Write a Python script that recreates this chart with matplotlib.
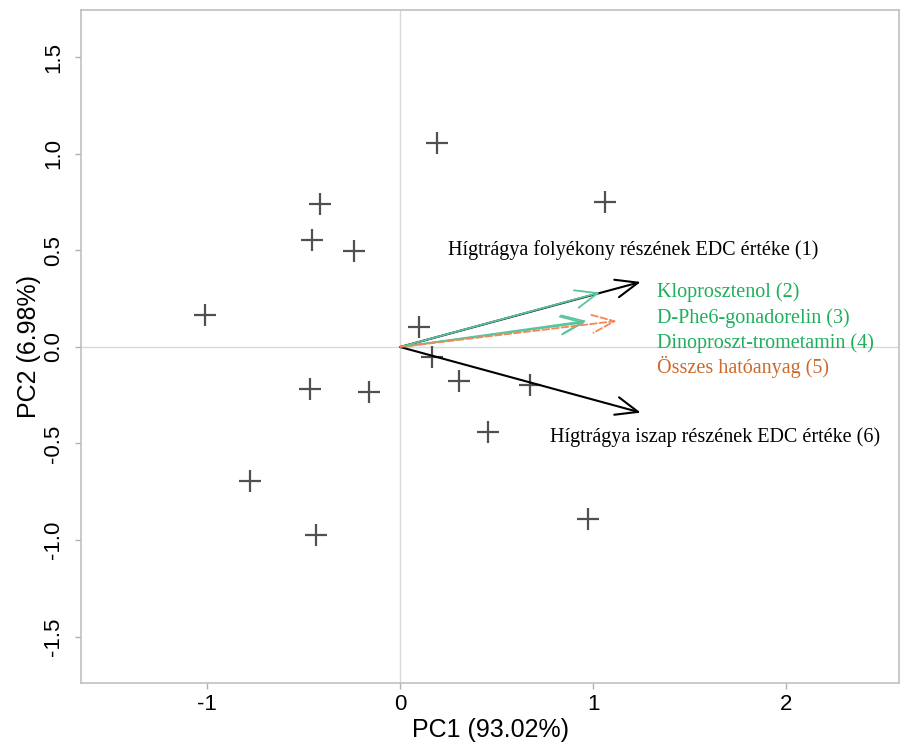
import matplotlib
matplotlib.use("Agg")
import matplotlib.pyplot as plt
from matplotlib.patches import FancyArrowPatch

# sample scores (PC1, PC2)
pc1 = [0.190, 1.062, -0.415, -0.458, -0.238, -1.010, 0.100, 0.164,
       0.307, 0.674, -0.466, -0.161, 0.458, -0.777, 0.976, -0.435]
pc2 = [1.059, 0.751, 0.739, 0.553, 0.497, 0.168, 0.104, -0.052,
       -0.176, -0.198, -0.219, -0.235, -0.440, -0.696, -0.889, -0.976]

# variable loadings (arrow tips)
var_names = ["Hígtrágya folyékony részének EDC értéke (1)",
             "Kloprosztenol (2)",
             "D-Phe6-gonadorelin (3)",
             "Dinoproszt-trometamin (4)",
             "Összes hatóanyag (5)",
             "Hígtrágya iszap részének EDC értéke (6)"]
load_x = [1.247, 1.036, 0.967, 0.960, 1.123, 1.247]
load_y = [0.337, 0.282, 0.135, 0.128, 0.135, -0.340]

xticks = [-1, 0, 1, 2]
yticks = [-1.5, -1.0, -0.5, 0.0, 0.5, 1.0, 1.5]
xlabel = "PC1 (93.02%)"
ylabel = "PC2 (6.98%)"

arrow_colors = ["#000000", "#5cc49c", "#5cc49c", "#5cc49c", "#f4875a", "#000000"]
arrow_styles = ["-", "-", "-", "-", "--", "-"]
text_colors = ["#000000", "#1fae5c", "#1fae5c", "#1fae5c", "#cc6a2c", "#000000"]

fig = plt.figure(figsize=(9.0, 7.45), dpi=100)
ax = fig.add_axes([0.09, 0.0832, 0.9089, 0.9034])
ax.set_xlim(-1.653, 2.585)
ax.set_ylim(-1.741, 1.746)

ax.axhline(0, color="#d9d9d9", lw=1.0, zorder=0)
ax.axvline(0, color="#d9d9d9", lw=1.0, zorder=0)

ax.scatter(pc1, pc2, marker="+", s=230, color="#505050", linewidths=1.6, zorder=3)

for i in range(len(var_names)):
    arr = FancyArrowPatch((0, 0), (load_x[i], load_y[i]),
                          arrowstyle="->,head_length=1.6,head_width=0.65",
                          mutation_scale=10, color=arrow_colors[i],
                          lw=1.5 if arrow_colors[i] == "#000000" else 1.3,
                          linestyle=arrow_styles[i], shrinkA=0, shrinkB=0,
                          zorder=4 if i != 4 else 5)
    ax.add_patch(arr)

serif = ["Liberation Serif", "DejaVu Serif"]
# label placements
ax.text(1.207, 0.50, var_names[0], color=text_colors[0], fontsize=14.5,
        family=serif, ha="center", va="center")
green_y = [0.285, 0.152, 0.020, -0.105]
for k, i in enumerate([1, 2, 3, 4]):
    ax.text(1.332, green_y[k], var_names[i], color=text_colors[i], fontsize=14.5,
            family=serif, ha="left", va="center")
ax.text(0.777, -0.466, var_names[5], color=text_colors[5], fontsize=14.5,
        family=serif, ha="left", va="center")

ax.set_xticks(xticks)
ax.set_xticklabels([str(t) for t in xticks], fontsize=16, family="Liberation Sans")
ax.set_yticks(yticks)
ax.set_yticklabels(["%.1f" % t for t in yticks], fontsize=16, family="Liberation Sans",
                   rotation=90, va="center")
ax.tick_params(axis="both", length=4, color="#b0b0b0", width=1.0)
ax.tick_params(axis="x", pad=4)
ax.tick_params(axis="y", pad=8)
for s in ax.spines.values():
    s.set_color("#c0c0c0")
    s.set_linewidth(1.2)

ax.set_xlabel(xlabel, fontsize=18, family="Liberation Sans", labelpad=2)
ax.set_ylabel(ylabel, fontsize=18, family="Liberation Sans", labelpad=2)

fig.savefig("out.png", dpi=100)
